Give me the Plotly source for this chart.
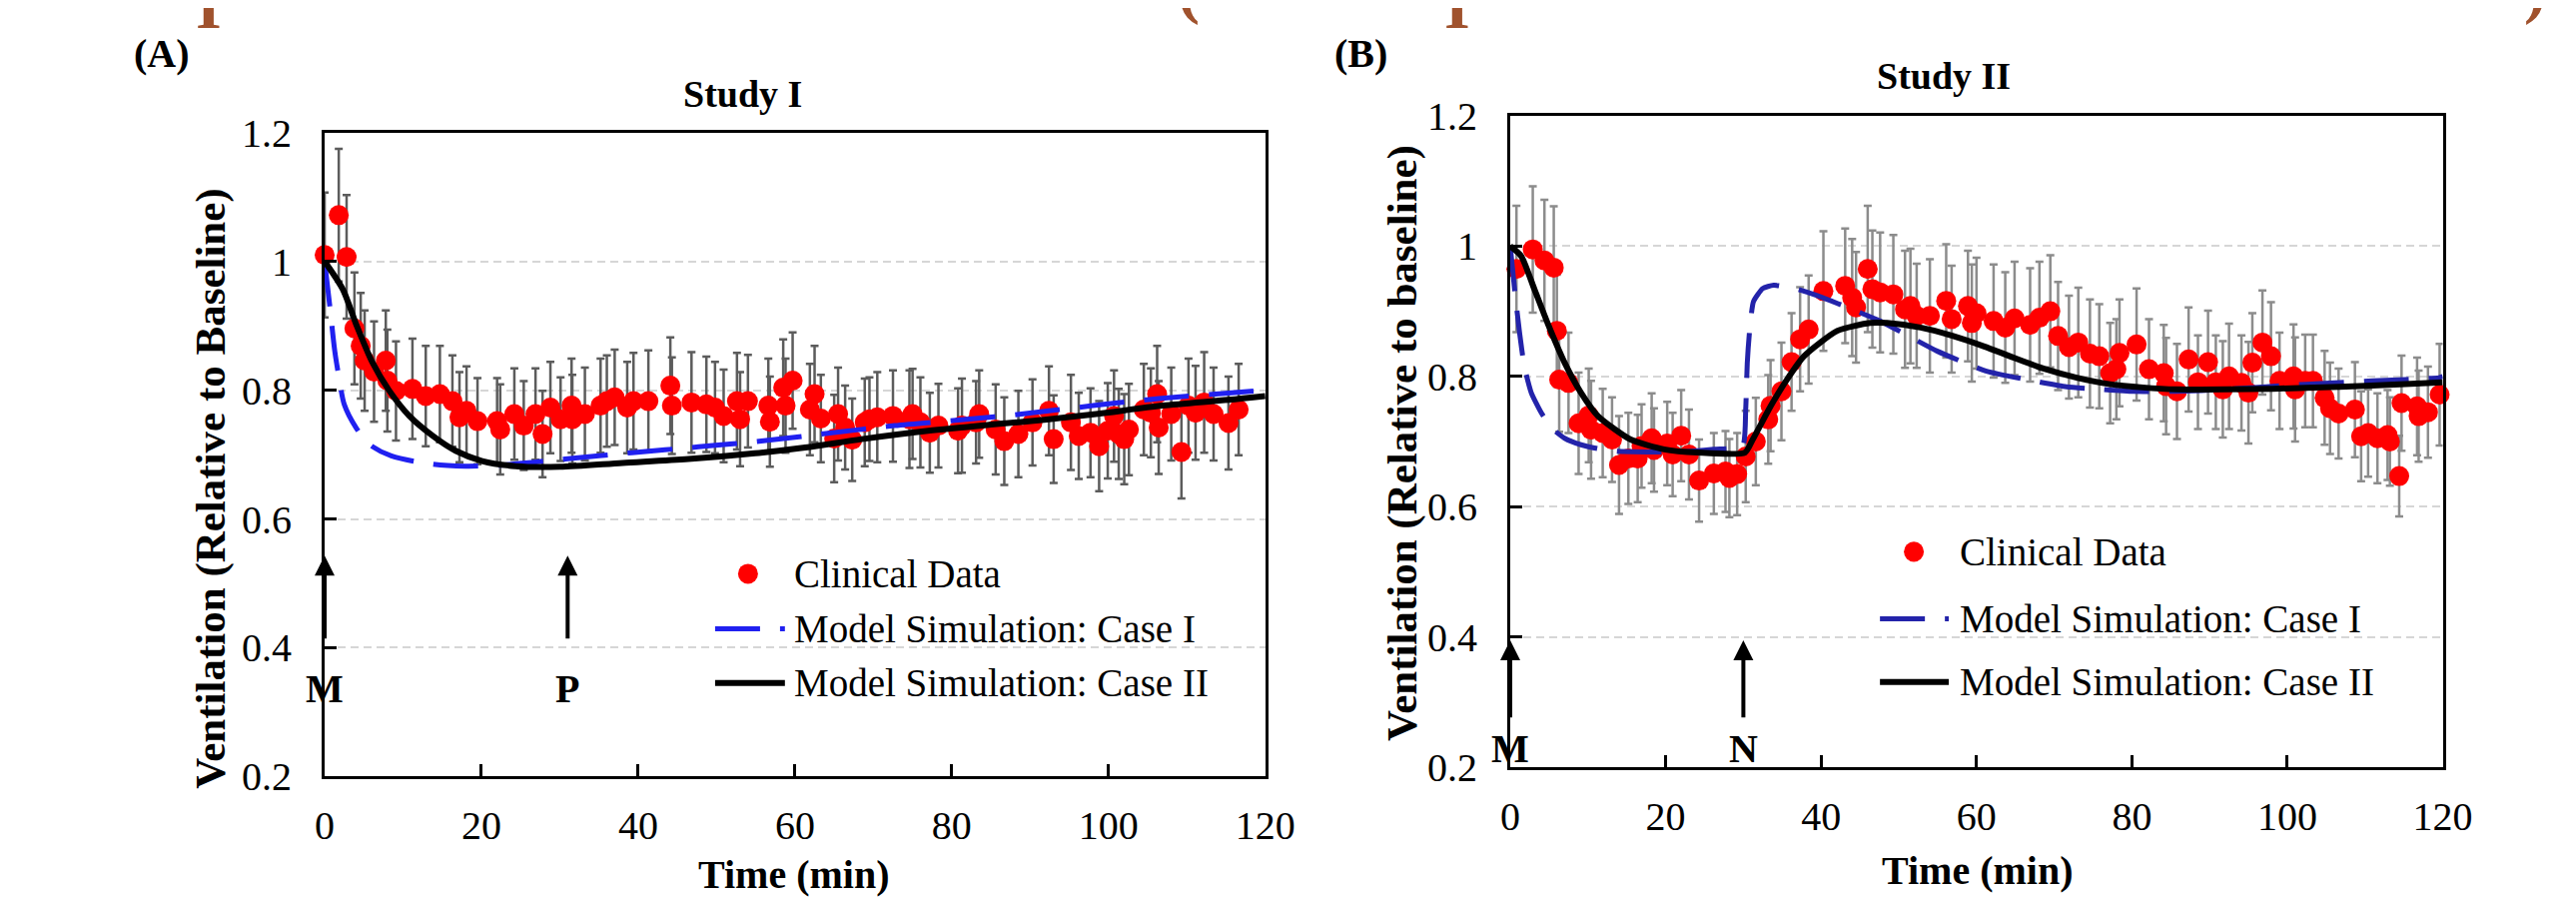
import plotly.graph_objects as go

# ---- Study I (panel A): clinical data, time in min, ventilation rel. to baseline, error
time_a = [0, 1.8, 2.8, 3.8, 4.6, 5.1, 6.3, 7.8, 8.0, 9.1, 11.2, 12.9, 14.7, 16.3, 17.2, 18.1,
          19.5, 22.0, 22.4, 24.2, 25.4, 26.9, 27.8, 28.8, 30.1, 31.5, 31.6, 33.2, 35.2, 36.0,
          37.0, 38.6, 39.4, 41.3, 44.1, 44.3, 46.8, 48.7, 49.8, 50.9, 52.6, 53.0, 54.0, 56.6,
          56.8, 58.5, 58.8, 59.7, 61.9, 62.5, 63.3, 65.0, 65.5, 66.4, 67.3, 68.9, 69.5, 70.5,
          72.5, 74.6, 75.0, 76.0, 77.2, 78.3, 80.8, 81.3, 83.1, 83.5, 85.6, 86.7, 88.5, 90.3,
          92.4, 93.0, 95.2, 96.2, 97.7, 98.8, 99.9, 100.7, 101.3, 102.0, 102.6, 104.5, 105.4,
          106.2, 106.4, 108.0, 109.3, 110.2, 111.1, 112.2, 113.4, 115.3, 116.6]
vent_a = [1.010, 1.072, 1.007, 0.896, 0.869, 0.846, 0.829, 0.846, 0.815, 0.799, 0.802, 0.791,
          0.794, 0.783, 0.758, 0.768, 0.752, 0.752, 0.739, 0.763, 0.745, 0.763, 0.732, 0.773,
          0.755, 0.776, 0.755, 0.763, 0.776, 0.783, 0.789, 0.773, 0.783, 0.783, 0.807, 0.776,
          0.781, 0.778, 0.773, 0.760, 0.783, 0.755, 0.783, 0.776, 0.751, 0.804, 0.776, 0.815,
          0.770, 0.794, 0.756, 0.725, 0.763, 0.742, 0.723, 0.750, 0.755, 0.758, 0.760, 0.755,
          0.763, 0.750, 0.734, 0.745, 0.737, 0.745, 0.750, 0.763, 0.739, 0.721, 0.732, 0.750,
          0.768, 0.724, 0.750, 0.729, 0.734, 0.713, 0.737, 0.760, 0.732, 0.724, 0.739, 0.770,
          0.765, 0.794, 0.742, 0.763, 0.704, 0.776, 0.765, 0.781, 0.763, 0.749, 0.770]
err_a = [0.097, 0.103, 0.096, 0.087, 0.082, 0.078, 0.078, 0.078, 0.079, 0.077, 0.078, 0.078,
         0.075, 0.071, 0.070, 0.069, 0.067, 0.067, 0.070, 0.071, 0.069, 0.071, 0.067, 0.071,
         0.065, 0.073, 0.069, 0.072, 0.073, 0.071, 0.074, 0.071, 0.075, 0.079, 0.075, 0.075,
         0.078, 0.074, 0.071, 0.072, 0.075, 0.073, 0.072, 0.073, 0.070, 0.075, 0.073, 0.075,
         0.071, 0.075, 0.068, 0.068, 0.072, 0.065, 0.064, 0.068, 0.065, 0.070, 0.071, 0.076,
         0.070, 0.070, 0.062, 0.065, 0.066, 0.073, 0.064, 0.068, 0.070, 0.068, 0.067, 0.067,
         0.069, 0.068, 0.074, 0.067, 0.069, 0.070, 0.074, 0.071, 0.070, 0.070, 0.071, 0.071,
         0.069, 0.075, 0.072, 0.072, 0.072, 0.073, 0.073, 0.078, 0.072, 0.072, 0.071]

# Study I model simulations
case1_t_a = [0, 0.7, 1.3, 1.9, 2.5, 4.0, 5.7, 8.5, 13.8, 18, 23, 30.7, 39.2, 47.7, 55.7, 64.2,
             72.7, 81.2, 89.7, 98, 106.4, 114.9, 120]
case1_v_a = [1.0, 0.926, 0.86, 0.815, 0.778, 0.742, 0.716, 0.698, 0.685, 0.682, 0.684, 0.693,
             0.703, 0.712, 0.721, 0.733, 0.745, 0.754, 0.764, 0.776, 0.787, 0.795, 0.80]
case2_t_a = [0, 2.3, 4.0, 6.1, 8.2, 10.8, 13.8, 16.7, 20.1, 24.4, 30, 38, 46.4, 54.9, 61.3,
             68.5, 77, 85.4, 91.8, 98.4, 106.9, 115.3, 120]
case2_v_a = [1.0, 0.957, 0.903, 0.843, 0.80, 0.76, 0.729, 0.706, 0.69, 0.682, 0.681, 0.687,
             0.693, 0.702, 0.711, 0.724, 0.737, 0.747, 0.754, 0.763, 0.776, 0.785, 0.791]

# ---- Study II (panel B)
time_b = [0.8, 2.9, 4.4, 5.6, 6.0, 6.3, 7.5, 8.8, 10.1, 10.4, 11.9, 13.1, 14.0, 15.2, 16.4,
          16.9, 18.2, 18.5, 20.2, 20.9, 22.0, 23.0, 24.3, 26.2, 27.7, 28.2, 29.2, 30.3, 31.6,
          33.2, 33.5, 34.9, 36.2, 37.3, 38.4, 40.3, 43.1, 44.0, 44.5, 46.0, 46.6, 47.6, 49.3,
          50.8, 51.5, 52.3, 54.0, 56.1, 56.8, 58.9, 59.4, 60.0, 62.2, 63.7, 64.9, 66.9, 68.1,
          69.5, 70.5, 71.9, 73.1, 74.6, 75.8, 77.2, 78.0, 78.4, 80.6, 82.2, 84.1, 84.4, 85.8,
          87.3, 88.5, 89.8, 90.8, 91.7, 92.5, 94.1, 95.0, 95.5, 96.8, 97.9, 99.0, 100.8, 101.0,
          102.3, 103.3, 104.8, 105.5, 106.6, 108.7, 109.5, 110.4, 111.6, 112.9, 113.2, 114.4,
          114.7, 116.7, 116.9, 118.1, 119.6]
vent_b = [0.965, 0.995, 0.978, 0.967, 0.870, 0.795, 0.790, 0.728, 0.740, 0.718, 0.713, 0.703,
          0.664, 0.674, 0.674, 0.693, 0.705, 0.687, 0.697, 0.680, 0.709, 0.680, 0.640, 0.651,
          0.654, 0.644, 0.650, 0.677, 0.700, 0.734, 0.755, 0.777, 0.822, 0.857, 0.872, 0.931,
          0.939, 0.921, 0.906, 0.965, 0.934, 0.929, 0.926, 0.903, 0.908, 0.893, 0.893, 0.916,
          0.888, 0.908, 0.882, 0.897, 0.885, 0.875, 0.889, 0.879, 0.890, 0.900, 0.862, 0.845,
          0.852, 0.835, 0.831, 0.805, 0.811, 0.836, 0.849, 0.811, 0.805, 0.785, 0.777, 0.826,
          0.791, 0.822, 0.791, 0.780, 0.800, 0.790, 0.775, 0.821, 0.852, 0.831, 0.793, 0.800,
          0.780, 0.793, 0.793, 0.767, 0.751, 0.743, 0.749, 0.708, 0.713, 0.705, 0.710, 0.700,
          0.647, 0.759, 0.754, 0.739, 0.745, 0.772]
err_b = [0.097, 0.097, 0.093, 0.094, 0.086, 0.080, 0.077, 0.078, 0.072, 0.075, 0.068, 0.065,
         0.075, 0.070, 0.067, 0.064, 0.069, 0.064, 0.064, 0.064, 0.070, 0.069, 0.063, 0.062,
         0.062, 0.060, 0.063, 0.070, 0.067, 0.068, 0.070, 0.075, 0.075, 0.080, 0.083, 0.092,
         0.088, 0.090, 0.085, 0.097, 0.090, 0.092, 0.091, 0.090, 0.088, 0.080, 0.087, 0.087,
         0.082, 0.085, 0.090, 0.085, 0.087, 0.085, 0.087, 0.087, 0.086, 0.086, 0.083, 0.079,
         0.084, 0.083, 0.080, 0.077, 0.077, 0.082, 0.086, 0.077, 0.074, 0.074, 0.073, 0.080,
         0.072, 0.079, 0.072, 0.074, 0.081, 0.073, 0.078, 0.076, 0.080, 0.083, 0.074, 0.080,
         0.080, 0.071, 0.071, 0.072, 0.070, 0.069, 0.073, 0.069, 0.067, 0.069, 0.069, 0.068,
         0.062, 0.073, 0.075, 0.070, 0.070, 0.078]

# Study II model simulations
case1_t_b = [0, 0.6, 1.2, 1.8, 2.7, 4.0, 5.5, 7.0, 9.1, 11.3, 13.8, 17.7, 22, 26.2, 29.9,
             30.3, 30.5, 30.8, 31.3, 32.5, 33.9, 36.9, 39.5, 42.1, 47.6, 54.9, 61.3, 66.5,
             71.6, 75, 80.2, 85.7, 92.1, 102.4, 111, 119.5, 120]
case1_v_b = [1.0, 0.929, 0.867, 0.816, 0.775, 0.744, 0.719, 0.705, 0.695, 0.689, 0.685, 0.684,
             0.684, 0.688, 0.693, 0.75, 0.82, 0.87, 0.915, 0.935, 0.94, 0.934, 0.924, 0.912,
             0.885, 0.839, 0.808, 0.795, 0.784, 0.781, 0.777, 0.777, 0.78, 0.788, 0.793, 0.798,
             0.80]
case2_t_b = [0, 1.4, 3.1, 4.8, 7.0, 9.1, 11.3, 15.5, 19.8, 24.1, 30.2, 31.2, 33.5, 35.6, 37.8,
             42.1, 46.3, 48.5, 52.8, 57, 61, 64.3, 68.6, 72.9, 77.2, 81.4, 85.7, 92.1, 98.1,
             106.7, 115.2, 120]
case2_v_b = [1.0, 0.985, 0.934, 0.882, 0.821, 0.775, 0.739, 0.703, 0.688, 0.683, 0.683, 0.703,
             0.754, 0.795, 0.831, 0.87, 0.882, 0.882, 0.875, 0.862, 0.846, 0.831, 0.812, 0.798,
             0.788, 0.783, 0.78, 0.78, 0.781, 0.784, 0.788, 0.791]

# axis ticks
x_ticks = [0, 20, 40, 60, 80, 100, 120]
y_ticks = [0.2, 0.4, 0.6, 0.8, 1.0, 1.2]
y_ticktext = ['0.2', '0.4', '0.6', '0.8', '1', '1.2']

# event markers (arrows)
events_a = [('M', 0), ('P', 31)]
events_b = [('M', 0), ('N', 30)]

W, H = 2579, 900
FONT = 'Liberation Serif'


# positions below are given in screenshot pixels; the page shot comes out a bit
# shrunk and offset, so map them back to page pixels first
def px(x):
    return ((x - 16) / 0.986) / W


def py(y):
    return 1 - ((y - 31.3) / 0.947) / H


fig = go.Figure()

for t, v, e, xa, ya, barcol in [(time_a, vent_a, err_a, 'x', 'y', '#5c5c5c'),
                                 (time_b, vent_b, err_b, 'x2', 'y2', '#8c8c8c')]:
    fig.add_trace(go.Scatter(
        x=t, y=v, mode='markers', xaxis=xa, yaxis=ya,
        marker=dict(color='#ff0000', size=20),
        error_y=dict(type='data', array=e, visible=True, color=barcol, thickness=2.5, width=4),
        cliponaxis=False, showlegend=False,
    ))

fig.add_trace(go.Scatter(x=case1_t_a, y=case1_v_a, mode='lines', xaxis='x', yaxis='y',
                         line=dict(color='#2020f0', width=5, dash='45px,20px', shape='spline', smoothing=0.8),
                         cliponaxis=False, showlegend=False))
fig.add_trace(go.Scatter(x=case2_t_a, y=case2_v_a, mode='lines', xaxis='x', yaxis='y',
                         line=dict(color='black', width=6, shape='spline', smoothing=0.8),
                         cliponaxis=False, showlegend=False))
fig.add_trace(go.Scatter(x=case1_t_b, y=case1_v_b, mode='lines', xaxis='x2', yaxis='y2',
                         line=dict(color='#2323aa', width=5, dash='45px,20px', shape='spline', smoothing=0.5),
                         cliponaxis=False, showlegend=False))
fig.add_trace(go.Scatter(x=case2_t_b, y=case2_v_b, mode='lines', xaxis='x2', yaxis='y2',
                         line=dict(color='black', width=6, shape='spline', smoothing=0.6),
                         cliponaxis=False, showlegend=False))

xaxis_style = dict(range=[0, 120], tickvals=x_ticks, ticks='inside', ticklen=12, tickwidth=3,
                   tickcolor='black', showline=True, linecolor='black', linewidth=3, mirror=True,
                   showgrid=False, zeroline=False, ticklabelstandoff=12,
                   tickfont=dict(family=FONT, size=40, color='black'))
yaxis_style = dict(range=[0.2, 1.2], tickvals=y_ticks, ticktext=y_ticktext, ticks='inside',
                   ticklen=12, tickwidth=3, tickcolor='black', showline=True, linecolor='black',
                   linewidth=3, mirror=True, showgrid=True, gridcolor='#d6d6d6', gridwidth=2,
                   griddash='8px,5px', zeroline=False, ticklabelstandoff=22,
                   tickfont=dict(family=FONT, size=40, color='black'))

fig.update_layout(
    width=W, height=H,
    margin=dict(l=0, r=0, t=0, b=0),
    paper_bgcolor='white', plot_bgcolor='white',
    xaxis=dict(xaxis_style, domain=[px(323.5), px(1266.7)], anchor='y'),
    yaxis=dict(yaxis_style, domain=[py(776.3), py(133.8)], anchor='x'),
    xaxis2=dict(xaxis_style, domain=[px(1512.3), px(2447.3)], anchor='y2'),
    yaxis2=dict(yaxis_style, domain=[py(767), py(117)], anchor='x2'),
)

annotations = []
shapes = []


def label(text, x, y, size, bold=True, angle=0, xanchor='center', color='black'):
    annotations.append(dict(
        text='<b>%s</b>' % text if bold else text, x=px(x), y=py(y), xref='paper', yref='paper',
        xanchor=xanchor, yanchor='middle', showarrow=False, textangle=angle,
        font=dict(family=FONT, size=size, color=color)))


# panel letters, titles, axis titles
label('(A)', 160, 55, 40)
label('(B)', 1363, 55, 40)
label('Study I', 743, 95, 38)
label('Study II', 1947, 77, 38)
label('Time (min)', 794, 874, 40)
label('Time (min)', 1981, 870, 40)
label('Ventilation (Relative to Baseline)', 209, 489, 43, angle=-90)
label('Ventilation (Relative to baseline)', 1404, 443, 43, angle=-90)

# cut-off brown glyphs at the very top of the page (only their feet are visible)
for x, ch, y in [(207, 'I', 44), (1459, 'I', 44), (1190, '(', 28), (2540, ')', 28)]:
    annotations.append(dict(text='<b>%s</b>' % ch, x=px(x), y=py(y), xref='paper', yref='paper',
                            xanchor='center', yanchor='bottom', showarrow=False, borderpad=0,
                            font=dict(family=FONT, size=66, color='#a0522d')))

# event arrows
for events, xr, yr, head, tail, lab in [(events_a, 'x', 'y', 0.543, 0.412, 0.336),
                                        (events_b, 'x2', 'y2', 0.395, 0.274, 0.228)]:
    for name, t in events:
        annotations.append(dict(x=t, y=head, ax=t, ay=tail, xref=xr, yref=yr, axref=xr, ayref=yr,
                                text='', showarrow=True, arrowhead=2, arrowsize=1, arrowwidth=4,
                                arrowcolor='black'))
        annotations.append(dict(x=t, y=lab, xref=xr, yref=yr, text='<b>%s</b>' % name,
                                showarrow=False, font=dict(family=FONT, size=40, color='black')))

# legends, drawn by hand so the line samples are as long as in the original
legends = [
    dict(box=(695, 545, 1210, 712), dot=(748, 574), line_x=(715, 785), rows=(574, 629, 683),
         text_x=792, blue='#2020f0'),
    dict(box=(1863, 520, 2377, 715), dot=(1917, 552), line_x=(1883, 1952), rows=(552, 619, 682),
         text_x=1961, blue='#2323aa'),
]
for lg in legends:
    x0, y0, x1, y1 = lg['box']
    shapes.append(dict(type='rect', xref='paper', yref='paper', x0=px(x0), x1=px(x1),
                       y0=py(y1), y1=py(y0), fillcolor='white', line=dict(width=0), layer='between'))
    cx, cy = lg['dot']
    r = 10
    shapes.append(dict(type='circle', xref='paper', yref='paper', x0=px(cx - r), x1=px(cx + r),
                       y0=py(cy + r), y1=py(cy - r), fillcolor='#ff0000', line=dict(width=0)))
    lx0, lx1 = lg['line_x']
    shapes.append(dict(type='line', xref='paper', yref='paper', x0=px(lx0), x1=px(lx1),
                       y0=py(lg['rows'][1]), y1=py(lg['rows'][1]),
                       line=dict(color=lg['blue'], width=5, dash='45px,20px')))
    shapes.append(dict(type='line', xref='paper', yref='paper', x0=px(lx0), x1=px(lx1),
                       y0=py(lg['rows'][2]), y1=py(lg['rows'][2]), line=dict(color='black', width=6)))
    for text, row in zip(['Clinical Data', 'Model Simulation: Case I', 'Model Simulation: Case II'],
                         lg['rows']):
        label(text, lg['text_x'], row, 39, bold=False, xanchor='left')

fig.update_layout(annotations=annotations, shapes=shapes)

fig.write_html("out.html")
